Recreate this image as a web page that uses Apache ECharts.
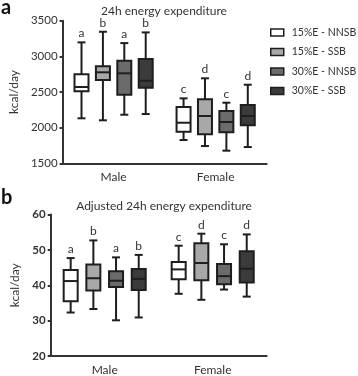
<!DOCTYPE html>
<html>
<head>
<meta charset="utf-8">
<script src="https://cdn.jsdelivr.net/npm/echarts@6/dist/echarts.min.js"></script>
<style>
  html, body { margin: 0; padding: 0; background: #fff; }
  #chart { width: 358px; height: 376px; }
</style>
</head>
<body>
<div id="chart"></div>
<script>
const categories = ['Male', 'Female'];
const groupNames = ['15%E - NNSB', '15%E - SSB', '30%E - NNSB', '30%E - SSB'];

// [min, q1, median, q3, max] per category (Male, Female)
const eeNNSB15 = [[2131, 2509, 2570, 2748, 3196], [1827, 1943, 2069, 2289, 2411]];
const eeSSB15 = [[2103, 2668, 2776, 2860, 3345], [1742, 1906, 2163, 2397, 2692]];
const eeNNSB30 = [[2181, 2462, 2762, 2938, 3186], [1677, 1934, 2079, 2233, 2350]];
const eeSSB30 = [[2191, 2560, 2658, 2962, 3336], [1728, 2033, 2163, 2317, 2602]];

const adjNNSB15 = [[32.3, 35.5, 41.2, 44.3, 47.7], [37.6, 41.7, 44.5, 46.6, 51.2]];
const adjSSB15 = [[33.3, 38.5, 42.0, 45.9, 52.7], [35.9, 41.4, 46.3, 51.9, 54.6]];
const adjNNSB30 = [[30.1, 39.5, 41.3, 44.0, 47.9], [38.8, 40.3, 42.6, 46.0, 51.6]];
const adjSSB30 = [[30.9, 38.7, 41.8, 44.6, 48.6], [36.8, 40.8, 44.7, 49.6, 54.4]];

// significance letters per group, [Male, Female]
const eeLetters = [['a', 'c'], ['b', 'd'], ['a', 'c'], ['b', 'd']];
const adjLetters = [['a', 'c'], ['b', 'd'], ['a', 'c'], ['b', 'd']];

const eeTicks = { min: 1500, max: 3500, interval: 500 };
const adjTicks = { min: 20, max: 60, interval: 10 };

const fills = ['#ffffff', '#a8a8a8', '#6b6b6b', '#3b3b3b'];
const ink = '#1e1e1e';
const font = 'Lato, "Open Sans", sans-serif';

function makeRender(gi, letters) {
  return function (params, api) {
    const cs = params.coordSys;
    const band = cs.width / categories.length;
    const avail = band * 0.8 - 2;
    const gap = avail / 4 * 0.3;
    const slot = (avail - gap * 3) / 4;
    const dx = slot / 2 - avail / 2 + gi * (gap + slot);
    const cat = api.value(0);
    const pMin = api.coord([cat, api.value(1)]);
    const pQ1 = api.coord([cat, api.value(2)]);
    const pMed = api.coord([cat, api.value(3)]);
    const pQ3 = api.coord([cat, api.value(4)]);
    const pMax = api.coord([cat, api.value(5)]);
    const x = pMin[0] + dx;
    const hw = 7, cw = 4;
    const ls = { stroke: ink, lineWidth: 2 };
    return {
      type: 'group',
      children: [
        { type: 'line', shape: { x1: x, y1: pMax[1], x2: x, y2: pQ3[1] }, style: ls },
        { type: 'line', shape: { x1: x, y1: pQ1[1], x2: x, y2: pMin[1] }, style: ls },
        { type: 'line', shape: { x1: x - cw, y1: pMax[1], x2: x + cw, y2: pMax[1] }, style: ls },
        { type: 'line', shape: { x1: x - cw, y1: pMin[1], x2: x + cw, y2: pMin[1] }, style: ls },
        { type: 'rect', shape: { x: x - hw, y: pQ3[1], width: hw * 2, height: pQ1[1] - pQ3[1] },
          style: { fill: fills[gi], stroke: ink, lineWidth: 2 } },
        { type: 'line', shape: { x1: x - hw, y1: pMed[1], x2: x + hw, y2: pMed[1] }, style: ls },
        { type: 'text', style: { text: letters[gi][params.dataIndex], x: x, y: pMax[1] - 3,
          align: 'center', verticalAlign: 'bottom', fill: '#333', fontSize: 12, fontFamily: font } }
      ]
    };
  };
}

function boxSeries(gi, stats, letters, gridIndex) {
  return {
    type: 'custom',
    name: groupNames[gi],
    xAxisIndex: gridIndex,
    yAxisIndex: gridIndex,
    itemStyle: { color: fills[gi], borderColor: ink, borderWidth: 1.5 },
    renderItem: makeRender(gi, letters),
    encode: { x: 0, y: [1, 2, 3, 4, 5] },
    data: stats.map((s, i) => [i].concat(s))
  };
}

function yAxis(gridIndex, ticks, bold) {
  return {
    type: 'value',
    gridIndex: gridIndex,
    min: ticks.min, max: ticks.max, interval: ticks.interval,
    name: 'kcal/day',
    nameLocation: 'middle',
    nameRotate: 90,
    nameGap: bold ? 30 : 36,
    nameTextStyle: { color: '#333', fontSize: 12, fontFamily: font },
    axisLine: { show: true, lineStyle: { color: '#333', width: 2 } },
    axisTick: { show: true, length: 3, lineStyle: { color: '#333', width: 2 } },
    axisLabel: { color: '#333', fontSize: 11.5, fontFamily: font, margin: 5,
      fontWeight: bold ? 'bold' : 'normal', formatter: v => String(v) },
    splitLine: { show: false }
  };
}

function xAxis(gridIndex) {
  return {
    type: 'category',
    gridIndex: gridIndex,
    data: categories,
    axisLine: { lineStyle: { color: '#333', width: 2 } },
    axisTick: { show: false },
    axisLabel: { color: '#333', fontSize: 12, fontFamily: font, margin: 8 }
  };
}

const chart = echarts.init(document.getElementById('chart'), null, { renderer: 'canvas' });
chart.setOption({
  animation: false,
  backgroundColor: '#fff',
  title: [
    { text: '24h energy expenditure', left: 159, top: 0, textAlign: 'center',
      textStyle: { fontSize: 12, fontWeight: 'normal', color: '#333', fontFamily: font } },
    { text: 'Adjusted 24h energy expenditure', left: 159, top: 195, textAlign: 'center',
      textStyle: { fontSize: 12, fontWeight: 'normal', color: '#333', fontFamily: font } }
  ],
  graphic: [
    { type: 'text', left: 1, top: -2, style: { text: 'a', fontSize: 20, fontWeight: 'bold', fill: '#111', fontFamily: font } },
    { type: 'text', left: 1, top: 188, style: { text: 'b', fontSize: 20, fontWeight: 'bold', fill: '#111', fontFamily: font } }
  ],
  legend: {
    orient: 'vertical',
    left: 270,
    top: 27,
    padding: 0,
    itemWidth: 13,
    itemHeight: 7,
    itemGap: 8.5,
    icon: 'rect',
    textStyle: { color: '#333', fontSize: 10.5, fontFamily: font, padding: [0, 0, 0, 3] },
    data: groupNames.map((n, i) => ({ name: n, itemStyle: { color: fills[i], borderColor: ink, borderWidth: 1.5 } }))
  },
  grid: [
    { left: 50.7, top: 20.7, width: 216, height: 142.6 },
    { left: 50.7, top: 214.6, width: 216, height: 141.7 }
  ],
  xAxis: [xAxis(0), xAxis(1)],
  yAxis: [yAxis(0, eeTicks, false), yAxis(1, adjTicks, true)],
  series: [
    boxSeries(0, eeNNSB15, eeLetters, 0),
    boxSeries(1, eeSSB15, eeLetters, 0),
    boxSeries(2, eeNNSB30, eeLetters, 0),
    boxSeries(3, eeSSB30, eeLetters, 0),
    boxSeries(0, adjNNSB15, adjLetters, 1),
    boxSeries(1, adjSSB15, adjLetters, 1),
    boxSeries(2, adjNNSB30, adjLetters, 1),
    boxSeries(3, adjSSB30, adjLetters, 1)
  ]
});
</script>
</body>
</html>
